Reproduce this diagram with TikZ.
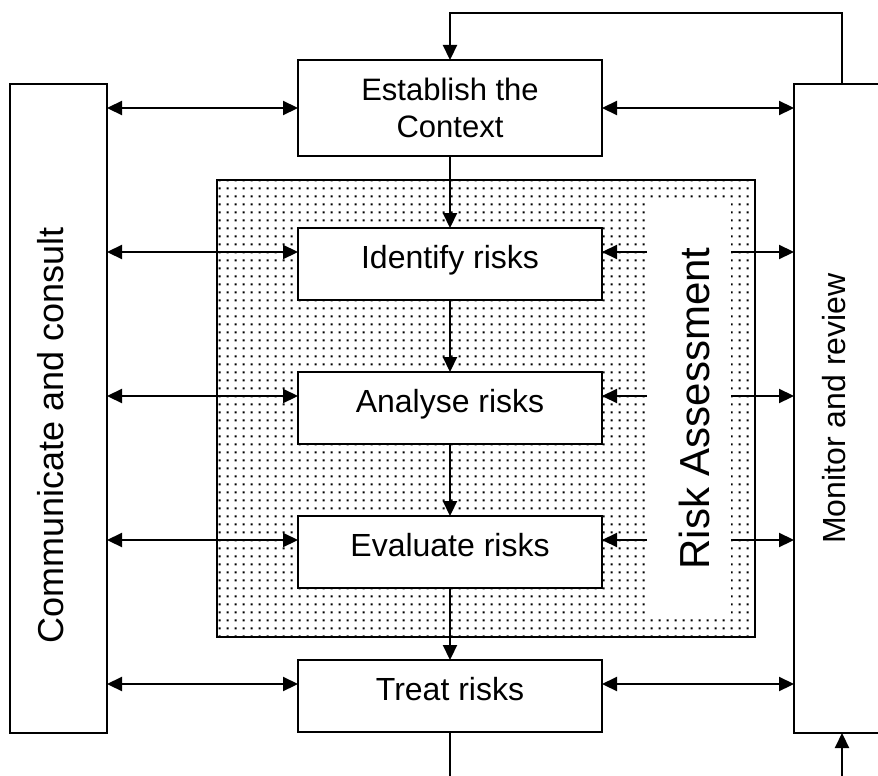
\documentclass[tikz,border=0pt]{standalone}
\usepackage{fontspec}
\setmainfont{Liberation Sans}
\usetikzlibrary{positioning,arrows.meta,patterns}

\pgfdeclarepatternformonly{finedots}{\pgfpointorigin}{\pgfpoint{8pt}{8pt}}{\pgfpoint{8pt}{8pt}}%
{\pgfpathrectangle{\pgfpoint{3pt}{3pt}}{\pgfpoint{2.2pt}{2.2pt}}\pgfusepath{fill}}

\begin{document}
\begin{tikzpicture}[x=1pt,y=-1pt,>={Triangle[length=15pt,width=14pt]},
	every node/.style={shape=rectangle,inner sep=0pt,outer sep=0pt},
	stepbox/.style={draw,line width=1.3pt,fill=white,minimum width=304pt,minimum height=72pt,font=\fontsize{32}{38}\selectfont},
	oneline/.style={text height=23pt,text depth=14pt},
	sidebox/.style={draw,line width=1.3pt,minimum height=649pt},
	sidetext/.style={rotate=90},
	link/.style={line width=2.2pt}]
		\useasboundingbox (0,0) rectangle (878,776);
		% dotted area of the assessment
		\node (rabg) [pattern=finedots,draw,line width=1.3pt,minimum width=538pt,minimum height=457pt] at (486,408.5) {};
		\node (ragap) [fill=white,minimum width=84pt,minimum height=411pt] at (689,408.5) {};
		\node (ratext) [sidetext,font=\fontsize{42}{50}\selectfont] at ([xshift=5pt]ragap.center) {Risk Assessment};
		
		% create the nodes
		\node (est) [stepbox,minimum height=96pt,align=center,font=\fontsize{31}{37}\selectfont] at (450,108) {Establish the\\Context};
		\node (id) [stepbox,oneline,below=72pt of est] {Identify risks};
		\node (an) [stepbox,oneline,below=72pt of id] {Analyse risks};
		\node (ev) [stepbox,oneline,below=72pt of an] {Evaluate risks};
		\node (tr) [stepbox,oneline,below=72pt of ev] {Treat risks};
		
		\node (comm) [sidebox,minimum width=97pt] at (58.5,408.5) {};
		\node (commtext) [sidetext,font=\fontsize{36}{43}\selectfont] at ([xshift=-8pt,yshift=-27pt]comm.center) {Communicate and consult};
		\node (mon) [sidebox,minimum width=96pt] at (842,408.5) {};
		\node (montext) [sidetext,font=\fontsize{32}{38}\selectfont] at ([xshift=-8pt]mon.center) {Monitor and review};
		
		% connect the nodes
		\draw[link,->] (est) to (id);
		\draw[link,->] (id) to (an);
		\draw[link,->] (an) to (ev);
		\draw[link,->] (ev) to (tr);
		\draw[link,<->] (comm.east |- est.west) to (est.west);
		\draw[link,<->] (est.east) to (mon.west |- est.east);
		\foreach \s in {id,an,ev,tr} {
			\coordinate (\s-l) at ([yshift=12pt]\s.west);
			\coordinate (\s-r) at ([yshift=12pt]\s.east);
			\draw[link,<->] (comm.east |- \s-l) to (\s-l);
		}
		\foreach \s in {id,an,ev} {
			\draw[link,->] (ragap.west |- \s-r) to (\s-r);
			\draw[link,->] (ragap.east |- \s-r) to (mon.west |- \s-r);
		}
		\draw[link,<->] (tr-r) to (mon.west |- tr-r);
		\draw[link,->] (mon.north) -- ++(0,-71) -| (est.north);
		\draw[link] (tr.south) -- ++(0,44);
		\draw[link,<-] (mon.south) -- ++(0,43);
\end{tikzpicture}
\end{document}
